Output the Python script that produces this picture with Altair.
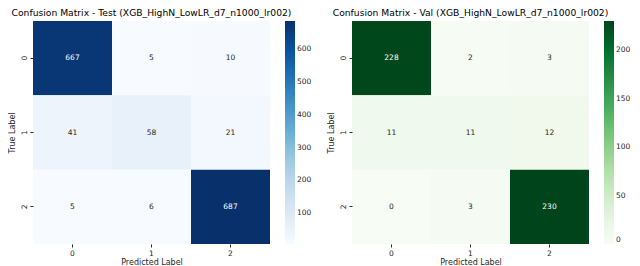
import altair as alt
import pandas as pd
import numpy as np

labels = ["0", "1", "2"]
test_vals = [[667, 5, 10], [41, 58, 21], [5, 6, 687]]
val_vals = [[228, 2, 3], [11, 11, 12], [0, 3, 230]]
test_title = "Confusion Matrix - Test (XGB_HighN_LowLR_d7_n1000_lr002)"
val_title = "Confusion Matrix - Val (XGB_HighN_LowLR_d7_n1000_lr002)"
test_ticks = [100, 200, 300, 400, 500, 600]
val_ticks = [0, 50, 100, 150, 200]
blues = ["#f7fbff", "#deebf7", "#c6dbef", "#9ecae1", "#6baed6", "#4292c6", "#2171b5", "#08519c", "#08306b"]
greens = ["#f7fcf5", "#e5f5e0", "#c7e9c0", "#a1d99b", "#74c476", "#41ab5d", "#238b45", "#006d2c", "#00441b"]

FONT = "DejaVu Sans"
W, H = 237, 223


def panel(vals, colors, title, ticks):
    rows = []
    for i, t in enumerate(labels):
        for j, p in enumerate(labels):
            rows.append({"true": t, "pred": p, "count": vals[i][j]})
    df = pd.DataFrame(rows)
    flat = [v for r in vals for v in r]
    lo, hi = min(flat), max(flat)
    dom = [float(v) for v in np.linspace(lo, hi, len(colors))]
    xenc = alt.X("pred:O", sort=labels, title="Predicted Label",
                 axis=alt.Axis(labelAngle=0, tickSize=3, labelPadding=2, titlePadding=2,
                               domain=False, labelFontSize=7.5, titleFontSize=8))
    yenc = alt.Y("true:O", sort=labels, title="True Label",
                 axis=alt.Axis(labelAngle=270, tickSize=3, labelPadding=2, titlePadding=4,
                               domain=False, labelFontSize=7.5, titleFontSize=8))
    base = alt.Chart(df)
    rect = base.mark_rect().encode(
        x=xenc, y=yenc,
        color=alt.Color("count:Q", scale=alt.Scale(domain=dom, range=colors),
                        legend=alt.Legend(title=None, orient="right", gradientLength=H,
                                          gradientThickness=10, offset=15, values=ticks,
                                          labelFontSize=7.5, labelOverlap=False,
                                          direction="vertical")),
    )
    text = base.mark_text(fontSize=7.5, font=FONT).encode(
        x=xenc, y=yenc, text="count:Q",
        color=alt.condition(alt.datum.count > (lo + hi) / 2, alt.value("white"), alt.value("#262626")),
    )
    return alt.layer(rect, text).properties(
        width=W, height=H,
        title=alt.TitleParams(title, fontSize=9.2, font=FONT, fontWeight="normal",
                              anchor="middle", frame="group", offset=3, color="black"),
    )


chart = alt.hconcat(
    panel(test_vals, blues, test_title, test_ticks),
    panel(val_vals, greens, val_title, val_ticks),
    spacing=15,
).resolve_scale(color="independent").properties(
    padding={"left": 0, "top": 0, "right": 0, "bottom": 0}
).configure_view(stroke=None).configure_axis(
    labelFont=FONT, titleFont=FONT, labelColor="#262626", titleColor="#262626",
    tickColor="#262626", titleFontWeight="normal", grid=False
).configure_legend(labelFont=FONT, labelColor="#262626")

chart.save("out.html", embed_options={"renderer": "svg", "actions": False})
